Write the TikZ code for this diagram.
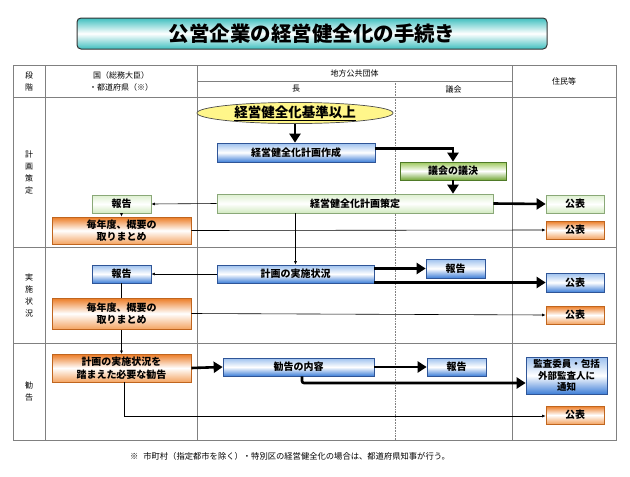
\documentclass[tikz,border=0pt]{standalone}
\usepackage{fontspec}
\setmainfont{Noto Sans CJK JP}
\usetikzlibrary{arrows.meta,shapes.geometric,calc}
\definecolor{blueTop}{HTML}{9CC0EE}
\definecolor{blueBot}{HTML}{3F7FD8}
\definecolor{blueLine}{HTML}{2F5597}
\definecolor{orTop}{HTML}{EC7A22}
\definecolor{orBot}{HTML}{F4A462}
\definecolor{orLine}{HTML}{C0651E}
\definecolor{grTop}{HTML}{9CC85A}
\definecolor{grBot}{HTML}{74A838}
\definecolor{grLine}{HTML}{4F7A28}
\definecolor{pgTop}{HTML}{DDF0CF}
\definecolor{pgBot}{HTML}{D2EAC0}
\definecolor{pgLine}{HTML}{8AA878}
\definecolor{teal}{HTML}{3FBFBF}
\definecolor{yel}{HTML}{FFF68A}
\definecolor{gridc}{HTML}{808080}
\begin{document}
\begin{tikzpicture}[x=1pt,y=-1pt,
  box/.style={draw, line width=0.7pt, inner sep=0pt, align=center,
    font=\bfseries\fontsize{10}{12.5}\selectfont},
  bluebox/.style={box, draw=blueLine, top color=blueTop, bottom color=blueBot, middle color=white},
  orbox/.style={box, draw=orLine, top color=orTop, bottom color=orBot, middle color=white},
  grbox/.style={box, draw=grLine, top color=grTop, bottom color=grBot, middle color=white},
  pgbox/.style={box, draw=pgLine, top color=pgTop, bottom color=pgBot, middle color=white},
  hdr/.style={font=\fontsize{8}{12}\selectfont, align=center, inner sep=0pt},
  grid/.style={draw=gridc, line width=0.6pt},
  thin/.style={draw, line width=0.6pt, -{Latex[length=3.5pt,width=3pt]}},
  thickarr/.style={draw, line width=2.6pt, -{Triangle[length=9pt,width=11pt]}},
]
\useasboundingbox (0,0) rectangle (630,477);
% title
\node[draw=black!80, line width=1pt, rounded corners=4pt, minimum width=470pt, minimum height=31pt,
  top color=teal, bottom color=teal, middle color=white,
  font=\bfseries\fontsize{20.5}{23}\selectfont] (title) at (312,33.5) {公営企業の経営健全化の手続き};
% grid
\draw[grid] (13,65) rectangle (616,440);
\draw[grid] (13,97) -- (616,97);
\draw[grid] (197,81) -- (512,81);
\draw[grid] (45,65) -- (45,440);
\draw[grid] (197,65) -- (197,440);
\draw[grid] (512,65) -- (512,440);
\draw[grid, densely dotted] (395,81) -- (395,440);
\draw[grid, line width=0.9pt] (13,247) -- (616,247);
\draw[grid, line width=0.9pt] (13,343) -- (616,343);
% headers
\node[hdr] (hdan) at (29,81) {段\\階};
\node[hdr] (hkuni) at (121,81) {国（総務大臣）\\・都道府県（※）};
\node[hdr] (hchiho) at (354.5,73) {地方公共団体};
\node[hdr] (hcho) at (296,89) {長};
\node[hdr] (hgikai) at (453.5,89) {議会};
\node[hdr] (hjumin) at (564,81) {住民等};
\node[hdr] (r1) at (29,172) {計\\画\\策\\定};
\node[hdr] (r2) at (29,295) {実\\施\\状\\況};
\node[hdr] (r3) at (29,391) {勧\\告};
% nodes
\node[ellipse, draw=black!70, line width=0.7pt, fill=yel, minimum width=196pt, minimum height=21pt, inner sep=0pt,
  font=\bfseries\fontsize{13.5}{15}\selectfont] (kijun) at (295,113) {\underline{経営健全化基準以上}};
\node[bluebox, minimum width=158pt, minimum height=19pt] (sakusei) at (296,152.5) {経営健全化計画作成};
\node[grbox, minimum width=106pt, minimum height=18pt] (giketsu) at (453,171) {議会の議決};
\node[pgbox, minimum width=276pt, minimum height=19pt] (sakutei) at (355,203.5) {経営健全化計画策定};
\node[pgbox, minimum width=58pt, minimum height=18pt] (koh1) at (575,204) {公表};
\node[orbox, minimum width=58pt, minimum height=18pt] (koh2) at (575,230) {公表};
\node[pgbox, minimum width=59pt, minimum height=18pt] (hok1) at (121.5,204) {報告};
\node[orbox, minimum width=139pt, minimum height=27pt] (mato1) at (121.5,230.5) {毎年度、概要の\\取りまとめ};
\node[bluebox, minimum width=157pt, minimum height=18pt] (jisshi) at (295.5,274) {計画の実施状況};
\node[bluebox, minimum width=59pt, minimum height=18pt] (hok2) at (121.5,274) {報告};
\node[bluebox, minimum width=59pt, minimum height=19pt] (hok3) at (455.5,268.5) {報告};
\node[bluebox, minimum width=58pt, minimum height=19pt] (koh3) at (575,282.5) {公表};
\node[orbox, minimum width=58pt, minimum height=18pt] (koh4) at (575,315) {公表};
\node[bluebox, minimum width=151pt, minimum height=18pt] (naiyo) at (298.5,367) {勧告の内容};
\node[bluebox, minimum width=59pt, minimum height=18pt] (hok4) at (456.5,367) {報告};
\node[bluebox, minimum width=81pt, minimum height=37pt, font=\bfseries\fontsize{9.5}{11.5}\selectfont] (kansa) at (566.5,375.5) {監査委員・包括\\外部監査人に\\通知};
\node[orbox, minimum width=58pt, minimum height=18pt] (koh5) at (575,415) {公表};
% line behind mato2
\draw[thin] (hok2.south) -- (hok2.south |- 0,354);
\node[orbox, minimum width=139pt, minimum height=31pt] (mato2) at (121.5,313.5) {毎年度、概要の\\取りまとめ};
\node[orbox, minimum width=139pt, minimum height=28pt] (kankoku) at (121.5,368) {計画の実施状況を\\踏まえた必要な勧告};
% footnote
\node[font=\fontsize{8.3}{10}\selectfont, inner sep=0pt] (note) at (290,456) {※\hspace{0.6em}市町村（指定都市を除く）・特別区の経営健全化の場合は、都道府県知事が行う。};
% connectors
\draw[thickarr] (kijun.south) -- (sakusei.north -| kijun.south);
\coordinate (s1) at ($(sakusei.north east)!0.3!(sakusei.south east)$);
\draw[thickarr] (s1) -| (giketsu.north);
\draw[thickarr] (giketsu.south) -- (giketsu.south |- sakutei.north);
\draw[thickarr] (sakutei.east) -- (koh1.west);
\draw[thin] (sakutei.west) -- (hok1.east);
\draw[thin] (hok1.south) -- (mato1.north);
\draw[thin] (mato1.east) -- (koh2.west);
\draw[thin] (jisshi.north |- sakutei.south) -- (jisshi.north);
\draw[thin] (jisshi.west) -- (hok2.east);
\draw[thickarr] (hok3.west -| jisshi.east) -- (hok3.west);
\draw[thickarr] (koh3.west -| jisshi.east) -- (koh3.west);
\draw[thin] (mato2.east) -- (koh4.west);
\draw[thickarr] (kankoku.east) -- (naiyo.west);
\draw[thickarr] (naiyo.east) -- (hok4.west);
\coordinate (c1) at (302,383);
\draw[thickarr, rounded corners=2pt] (naiyo.south -| c1) -- (c1) -- (kansa.west |- c1);
\coordinate (c2) at (124,416);
\draw[thin] (kankoku.south -| c2) -- (c2) -- (koh5.west |- c2);
\end{tikzpicture}
\end{document}
